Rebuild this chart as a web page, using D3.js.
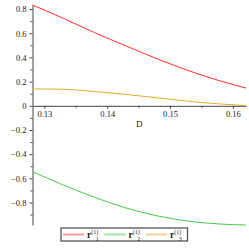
<!DOCTYPE html>
<html>
<head>
<meta charset="utf-8">
<script src="https://cdn.jsdelivr.net/npm/d3@7"></script>
<style>
  body { margin: 0; background: #fff; }
  svg text { font-family: "Liberation Serif", "DejaVu Serif", serif; }
</style>
</head>
<body>
<div id="wrapper"></div>
<script>
// values
var dValues = [0.1281, 0.133, 0.138, 0.143, 0.148, 0.153, 0.158, 0.1621];
var r1 = [0.834, 0.724, 0.605, 0.495, 0.388, 0.29, 0.206, 0.147];
var r2 = [-0.545, -0.655, -0.757, -0.845, -0.911, -0.955, -0.978, -0.986];
var r3 = [0.140, 0.137, 0.118, 0.094, 0.066, 0.037, 0.015, 0.002];
var seriesSubs = ["1", "2", "3"];
var seriesColors = ["#ff3030", "#46cc46", "#e2ae2e"];
var xMajor = [0.13, 0.14, 0.15, 0.16];
var xMinor = [0.135, 0.145, 0.155];
var yMajor = [-0.8, -0.6, -0.4, -0.2, 0, 0.2, 0.4, 0.6, 0.8];
var yMinor = [-0.9, -0.7, -0.5, -0.3, -0.1, 0.1, 0.3, 0.5, 0.7];

drawPlot([r1, r2, r3], '#wrapper');

function drawPlot(series, dom_element_to_append_to) {
  var width = 249, height = 249;

  var svg = d3.select(dom_element_to_append_to)
    .append("svg")
    .attr("width", width)
    .attr("height", height);

  var x = d3.scaleLinear().domain([0.1281, 0.1621]).range([32.5, 246]);
  var y = d3.scaleLinear().domain([-0.986, 0.834]).range([225, 5]);

  var fmt = function(d) { return d === 0 ? "0" : d3.format(".1f")(d).replace("-", "\u2212"); };

  // y axis
  svg.append("g").attr("transform", "translate(" + x(0.1281) + ",0)")
    .call(d3.axisLeft(y).tickValues(yMajor).tickFormat(fmt).tickSize(3).tickSizeOuter(0).tickPadding(3));
  svg.append("g").attr("transform", "translate(" + x(0.1281) + ",0)")
    .call(d3.axisLeft(y).tickValues(yMinor).tickFormat("").tickSize(2).tickSizeOuter(0))
    .select(".domain").remove();

  // x axis through zero
  svg.append("g").attr("transform", "translate(0," + y(0) + ")")
    .call(d3.axisBottom(x).tickValues(xMajor).tickFormat(d3.format(".2f")).tickSize(3).tickSizeOuter(0).tickPadding(2));
  svg.append("g").attr("transform", "translate(0," + y(0) + ")")
    .call(d3.axisBottom(x).tickValues(xMinor).tickFormat("").tickSize(2).tickSizeOuter(0))
    .select(".domain").remove();

  svg.selectAll(".domain").attr("stroke", "#444");
  svg.selectAll(".tick line").attr("stroke", "#444");
  svg.selectAll(".tick text").attr("font-size", 8.5).attr("fill", "#222")
    .style("font-family", "'Liberation Serif', serif");

  svg.append("text")
    .attr("x", x(0.1451)).attr("y", 127)
    .attr("text-anchor", "middle")
    .attr("font-size", 9)
    .attr("fill", "#222")
    .text("D");

  var line = d3.line()
    .x(function(d, i) { return x(dValues[i]); })
    .y(function(d) { return y(d); })
    .curve(d3.curveMonotoneX);

  svg.selectAll("path.curve")
    .data(series)
    .enter()
    .append("path")
    .attr("class", "curve")
    .attr("d", line)
    .attr("fill", "none")
    .attr("stroke", function(d, i) { return seriesColors[i]; })
    .attr("stroke-width", 1);

  // legend
  var legend = svg.append("g");
  legend.append("rect")
    .attr("x", 61).attr("y", 228)
    .attr("width", 126.5).attr("height", 13)
    .attr("fill", "#fff")
    .attr("stroke", "#555")
    .attr("stroke-width", 1.3);

  var item = legend.selectAll("g.item")
    .data(seriesSubs)
    .enter()
    .append("g")
    .attr("transform", function(d, i) { return "translate(" + (63 + i * 41.5) + ",234.5)"; });

  item.append("line")
    .attr("x1", 0).attr("x2", 21)
    .attr("stroke", function(d, i) { return seriesColors[i]; })
    .attr("stroke-opacity", 0.5)
    .attr("stroke-width", 2);

  var t = item.append("text")
    .attr("x", 24).attr("y", 3.5)
    .attr("font-size", 9.5)
    .attr("fill", "#222");
  t.append("tspan").attr("font-weight", "bold").text("r");
  t.append("tspan").attr("font-size", 6).attr("dy", -4).text("(1)");
  t.append("tspan").attr("font-size", 6).attr("dx", -2.5).attr("dy", 7).text(function(d) { return d; });
}
</script>
</body>
</html>
